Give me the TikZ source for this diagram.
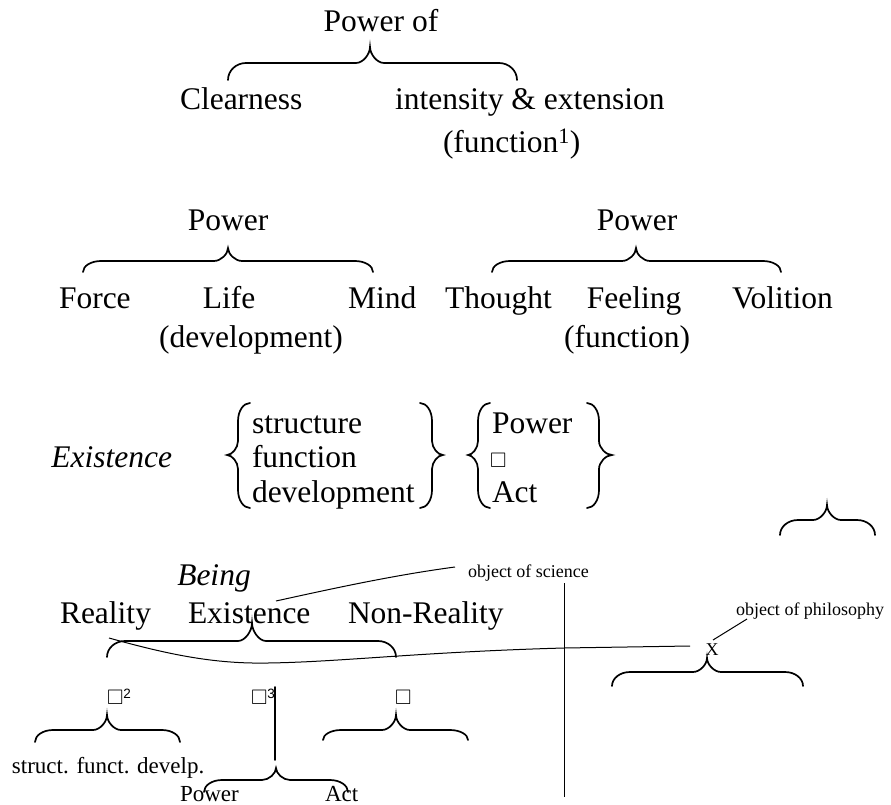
\documentclass[tikz,border=0pt]{standalone}
\usepackage{amssymb}
\usepackage{fontspec}
\setmainfont{Liberation Serif}
\setsansfont{Liberation Sans}

% horizontal curly brace: left x, right x, tip x, tip y, bar y, end y
\newcommand\hbrace[6]{%
  \draw[brace] (#1,#6) .. controls (#1,{#5+0.45*(#6-#5)}) and ({#1+8},#5) .. ({#1+18},#5)
    -- ({#3-14},#5) .. controls ({#3-7},#5) and (#3,{#4+0.45*(#5-#4)}) .. (#3,#4)
    .. controls (#3,{#4+0.45*(#5-#4)}) and ({#3+7},#5) .. ({#3+14},#5)
    -- ({#2-18},#5) .. controls ({#2-8},#5) and (#2,{#5+0.45*(#6-#5)}) .. (#2,#6);}

% vertical curly brace: end x, stem x, tip x, top y, tip y, bottom y
\newcommand\vbrace[6]{%
  \draw[brace] (#1,#4) .. controls ({#2+0.45*(#1-#2)},#4) and (#2,{#4+8}) .. (#2,{#4+18})
    -- (#2,{#5-14}) .. controls (#2,{#5-7}) and ({#3+0.45*(#2-#3)},#5) .. (#3,#5)
    .. controls ({#3+0.45*(#2-#3)},#5) and (#2,{#5+7}) .. (#2,{#5+14})
    -- (#2,{#6-18}) .. controls (#2,{#6-8}) and ({#2+0.45*(#1-#2)},#6) .. (#1,#6);}

% small sans index raised beside a square
\newcommand\sqidx[1]{\raisebox{6pt}{\fontsize{13.5}{14}\sffamily #1}}

\begin{document}
\begin{tikzpicture}[x=1pt,y=-1pt,
  every node/.style={inner sep=0pt, outer sep=0pt},
  txtbig/.style={font=\fontsize{31.5}{36}\selectfont},
  txtmid/.style={font=\fontsize{23}{27}\selectfont},
  txtsmall/.style={font=\fontsize{18}{21}\selectfont},
  sqbox/.style={font=\fontsize{21}{21}\selectfont},
  brace/.style={line width=1.7pt, line cap=round},
  thin/.style={line width=1pt}]
\useasboundingbox (0,0) rectangle (891,805);

% --- Power of: clearness / intensity
\node[txtbig, anchor=base] (title) at (381,32) {Power of};
\node[txtbig, anchor=base west] (clear) at (180,110) {Clearness};
\node[txtbig, anchor=base west] (inten) at (395,110) {intensity \& extension};
\node[txtbig, anchor=base west] (func1) at (443,153) {(function\textsuperscript{1})};
\hbrace{228}{517}{370}{47}{63}{80}

% --- Power: force / life / mind
\node[txtbig, anchor=base] (powA) at (228,230) {Power};
\node[txtbig, anchor=base west] (force) at (59,308) {Force};
\node[txtbig, anchor=base] (life) at (229,308) {Life};
\node[txtbig, anchor=base west] (mind) at (348,308) {Mind};
\node[txtbig, anchor=base] (devA) at (251,347) {(development)};
\hbrace{83}{373}{228}{248}{261}{272}

% --- Power: thought / feeling / volition
\node[txtbig, anchor=base] (powB) at (637,230) {Power};
\node[txtbig, anchor=base west] (thought) at (445,308) {Thought};
\node[txtbig, anchor=base] (feeling) at (634,308) {Feeling};
\node[txtbig, anchor=base west] (volit) at (732,308) {Volition};
\node[txtbig, anchor=base] (funcB) at (627,347) {(function)};
\hbrace{492}{781}{636}{248}{261}{272}

% --- Existence
\node[txtbig, anchor=base east] (existA) at (172,467) {\itshape Existence};
\node[txtbig, anchor=base west] (struc) at (252,433) {structure};
\node[txtbig, anchor=base west] (funcC) at (252,467) {function};
\node[txtbig, anchor=base west] (devC) at (252,502) {development};
\vbrace{250}{238}{227}{403}{455}{508}
\vbrace{420}{432}{443}{403}{455}{508}
\node[txtbig, anchor=base west] (powC) at (492,433) {Power};
\node[sqbox, anchor=base west] (sqC) at (490,467) {$\square$};
\node[txtbig, anchor=base west] (actC) at (492,502) {Act};
\vbrace{490}{478}{468}{403}{455}{508}
\vbrace{587}{599}{612}{403}{455}{508}

\hbrace{780}{875}{827}{505}{520}{535}

% --- Being
\node[txtbig, anchor=base] (being) at (214,585) {\itshape Being};
\node[txtbig, anchor=base west] (real) at (60,623) {Reality};
\node[txtbig, anchor=base west] (existB) at (188,623) {Existence};
\node[txtbig, anchor=base west] (nonreal) at (348,623) {Non-Reality};
\hbrace{107}{396}{252}{623}{641}{657}

\node[txtsmall, anchor=base west] (obsci) at (468,577) {object of science};
\node[txtsmall, anchor=base west] (obphil) at (736,615) {object of philosophy};
\node[txtsmall, anchor=base] (xnode) at (712,655) {X};
\hbrace{612}{803}{707}{658}{672}{686}

% leader lines and the cross
\coordinate (sciA) at (276,601);
\coordinate (sciB) at (455,567);
\draw[thin] (sciA) .. controls (335,588) and (395,575) .. (sciB);
\coordinate (vtop) at (564,583);
\coordinate (vbot) at (564,797);
\draw[thin] (vtop) -- (vbot);
\coordinate (rstart) at (109,638);
\coordinate (rlow) at (268,663);
\coordinate (cross) at (564,648);
\coordinate (xend) at (690,646);
\draw[thin] (rstart) .. controls (170,655) and (215,664) .. (rlow)
  .. controls (340,662) and (420,652) .. (cross) -- (xend);
\coordinate (phA) at (713,640);
\coordinate (phB) at (747,619);
\draw[thin] (phA) -- (phB);

% --- squares and their parts
\node[sqbox, anchor=base west] (sq2) at (107,704) {$\square$\sqidx{2}};
\node[sqbox, anchor=base west] (sq3) at (251,704) {$\square$\sqidx{3}};
\node[sqbox, anchor=base west] (sq1) at (395,704) {$\square$};
\hbrace{35}{180}{107}{715}{730}{742}
\hbrace{323}{468}{396}{715}{730}{740}
\coordinate (stemA) at (275,687);
\coordinate (stemB) at (275,760);
\draw[brace] (stemA) -- (stemB);
\hbrace{204}{348}{276}{768}{780}{792}
\node[txtmid, anchor=base west] (sfd) at (12,773) {struct. funct. develp.};
\node[txtmid, anchor=base west] (powD) at (180,801) {Power};
\node[txtmid, anchor=base west] (actD) at (325,801) {Act};
\end{tikzpicture}
\end{document}
